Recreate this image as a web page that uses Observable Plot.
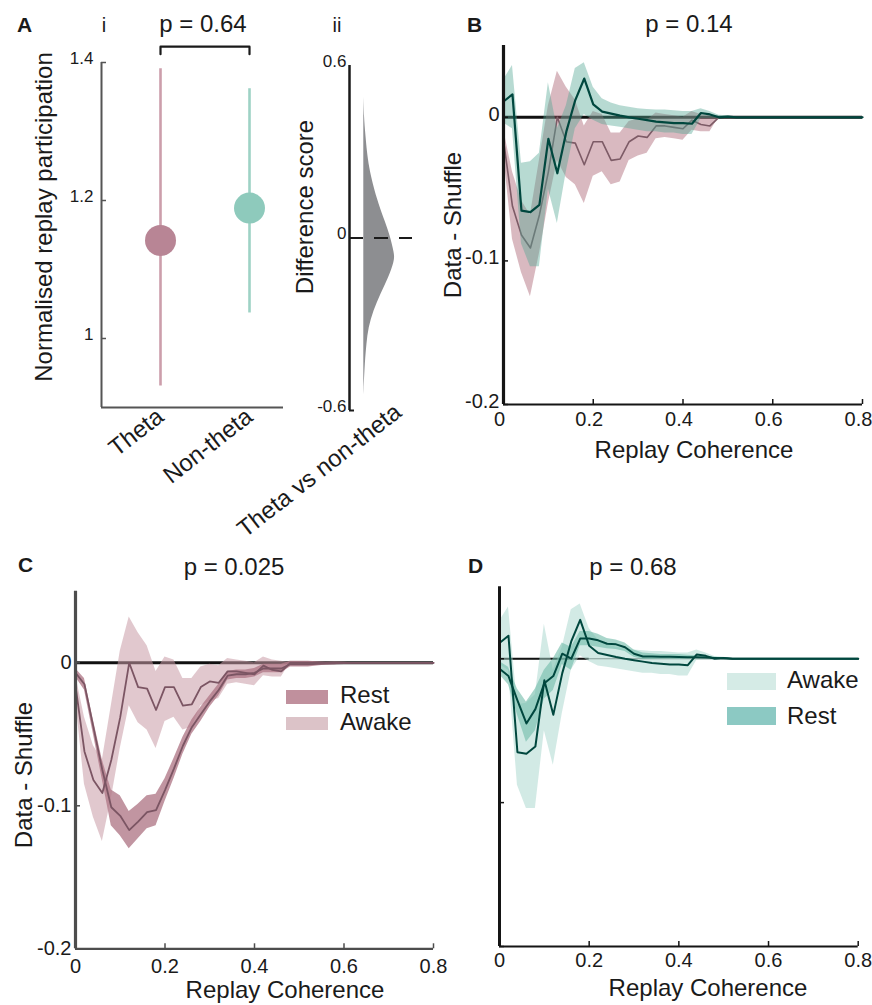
<!DOCTYPE html>
<html><head><meta charset="utf-8">
<script src="https://cdn.jsdelivr.net/npm/d3@7"></script>
<script src="https://cdn.jsdelivr.net/npm/@observablehq/plot@0.6"></script>
<style>
html,body{margin:0;padding:0;background:#fff;}
#fig{position:relative;width:872px;height:1005px;overflow:hidden;background:#fff;}
.panel{position:absolute;}
.panel svg{display:block;overflow:visible;}
#overlay{position:absolute;left:0;top:0;pointer-events:none;overflow:visible;}
</style></head><body><div id="fig"></div><script>
const FONT = '"Liberation Sans", Arial, Helvetica, sans-serif';

// ---------- Panel A data ----------
const groups = ["Theta", "Non-theta"];
const groupMean = [1.142, 1.189];
const groupLow = [0.931, 1.037];
const groupHigh = [1.391, 1.362];
const groupDot = ["#b88595", "#8ecabc"];
const groupLine = ["#cc9eab", "#9ed2c5"];
const aTicks = [1, 1.2, 1.4];

const diffValues = [0.49, 0.42, 0.36, 0.244, 0.129, 0.07, 0.014, -0.056, -0.08, -0.138, -0.195, -0.254, -0.312, -0.37, -0.43, -0.546];
const diffDensity = [0, 0.02, 0.065, 0.16, 0.45, 0.645, 0.84, 1.0, 1.0, 0.81, 0.55, 0.32, 0.16, 0.1, 0.05, 0];
const diffTicks = [-0.6, 0, 0.6];

// ---------- Panels B-D data (Data - Shuffle vs replay coherence) ----------
const coherence = [0,0.02,0.04,0.06,0.08,0.1,0.12,0.14,0.16,0.18,0.2,0.22,0.24,0.26,0.28,0.3,0.32,0.34,0.36,0.38,0.4,0.42,0.44,0.46,0.48,0.5,0.52,0.54,0.56,0.58,0.6,0.62,0.64,0.66,0.68,0.7,0.72,0.74,0.76,0.78,0.8];

// theta (B) / awake (C)
const thetaMean = [-0.016,-0.062,-0.082,-0.091,-0.068,-0.038,0.000,-0.017,-0.018,-0.033,-0.017,-0.017,-0.030,-0.029,-0.017,-0.013,-0.014,-0.006,-0.006,-0.007,-0.008,-0.002,-0.005,-0.006,0,0,0,0,0,0,0,0,0,0,0,0,0,0,0,0,0];
const thetaHigh = [-0.008,-0.038,-0.058,-0.068,-0.030,0.008,0.032,0.021,0.012,-0.006,0.004,0.002,-0.011,-0.011,-0.003,-0.001,-0.002,0.003,0.002,0.001,0.000,0.004,0.002,0.001,0,0,0,0,0,0,0,0,0,0,0,0,0,0,0,0,0];
const thetaLow = [-0.025,-0.085,-0.108,-0.125,-0.095,-0.060,-0.030,-0.042,-0.047,-0.060,-0.041,-0.038,-0.047,-0.045,-0.030,-0.027,-0.025,-0.015,-0.014,-0.015,-0.016,-0.009,-0.010,-0.010,0,0,0,0,0,0,0,0,0,0,0,0,0,0,0,0,0];

// non-theta (B) / awake (D)
const nonThetaMean = [0.011,0.016,-0.065,-0.066,-0.061,-0.015,-0.039,-0.010,0.012,0.027,0.009,0.004,0.0026,0.0012,0.000,-0.001,-0.002,-0.003,-0.0035,-0.004,-0.004,-0.0045,0.003,0.002,0.000,0.0005,0,0,0,0,0,0,0,0,0,0,0,0,0,0,0];
const nonThetaHigh = [0.026,0.036,-0.032,-0.031,-0.025,0.024,-0.008,0.008,0.034,0.038,0.021,0.013,0.010,0.008,0.007,0.006,0.0055,0.005,0.005,0.0045,0.004,0.004,0.006,0.004,0.0015,0.001,0,0,0,0,0,0,0,0,0,0,0,0,0,0,0];
const nonThetaLow = [-0.004,-0.008,-0.088,-0.104,-0.104,-0.050,-0.074,-0.038,-0.008,0.002,-0.002,-0.005,-0.006,-0.007,-0.008,-0.009,-0.010,-0.010,-0.011,-0.011,-0.012,-0.012,-0.001,-0.001,-0.001,-0.0005,0,0,0,0,0,0,0,0,0,0,0,0,0,0,0];

// rest (C)
const restMeanC = [-0.007,-0.015,-0.045,-0.075,-0.101,-0.107,-0.117,-0.111,-0.1045,-0.103,-0.089,-0.074,-0.058,-0.045,-0.036,-0.027,-0.019,-0.009,-0.008,-0.008,-0.007,-0.004,-0.004,-0.004,-0.001,-0.001,-0.001,-0.0008,-0.0006,-0.0004,-0.0002,0,0,0,0,0,0,0,0,0,0];
const restHighC = [-0.004,-0.011,-0.040,-0.068,-0.089,-0.093,-0.104,-0.099,-0.093,-0.092,-0.081,-0.067,-0.052,-0.040,-0.031,-0.023,-0.015,-0.006,-0.005,-0.005,-0.004,-0.001,-0.001,-0.001,0.001,0.001,0.001,0.0007,0.0004,0.0006,0.0003,0,0,0,0,0,0,0,0,0,0];
const restLowC = [-0.010,-0.019,-0.050,-0.082,-0.114,-0.121,-0.130,-0.123,-0.116,-0.114,-0.097,-0.081,-0.064,-0.050,-0.041,-0.031,-0.023,-0.012,-0.011,-0.011,-0.010,-0.007,-0.007,-0.007,-0.003,-0.003,-0.003,-0.0023,-0.0016,-0.0014,-0.0007,0,0,0,0,0,0,0,0,0,0];

// rest (D)
const restMeanD = [-0.007,-0.012,-0.029,-0.045,-0.035,-0.017,-0.012,0.0035,0.000,0.014,0.014,0.0128,0.0104,0.010,0.008,0.0035,0.0016,0.0015,0.0014,0.0013,0.0012,0.0011,0.001,0.0008,0.0005,0.0003,0,0,0,0,0,0,0,0,0,0,0,0,0,0,0];
const restHighD = [-0.002,-0.006,-0.021,-0.030,-0.021,-0.008,0.000,0.011,0.008,0.019,0.019,0.017,0.014,0.013,0.011,0.006,0.004,0.0035,0.003,0.003,0.003,0.0025,0.002,0.0015,0.001,0.0006,0,0,0,0,0,0,0,0,0,0,0,0,0,0,0];
const restLowD = [-0.011,-0.018,-0.039,-0.058,-0.050,-0.028,-0.022,-0.004,-0.008,0.009,0.009,0.008,0.007,0.0065,0.005,0.001,-0.0005,-0.0005,-0.0003,-0.0003,-0.0005,-0.0003,0,0.0001,0,0,0,0,0,0,0,0,0,0,0,0,0,0,0,0,0];

const xTicks = [0, 0.2, 0.4, 0.6, 0.8];
const yTicks = [-0.2, -0.1, 0];
const xDomain = [0, 0.8];
const yDomain = [-0.2, 0.05];

function rows(mean, lo, hi) {
  return coherence.map((c, i) => ({c, mean: mean[i], lo: lo[i], hi: hi[i]}));
}
const bTheta = rows(thetaMean, thetaLow, thetaHigh);
const bNon = rows(nonThetaMean, nonThetaLow, nonThetaHigh);
const cAwake = rows(thetaMean, thetaLow, thetaHigh);
const cRest = rows(restMeanC, restLowC, restHighC);
const dAwake = rows(nonThetaMean, nonThetaLow, nonThetaHigh);
const dRest = rows(restMeanD, restLowD, restHighD);

const fig = document.getElementById("fig");
function place(node, left, top) {
  const d = document.createElement("div");
  d.className = "panel";
  d.style.left = left + "px";
  d.style.top = top + "px";
  d.appendChild(node);
  fig.appendChild(d);
}
const fmt = d => String(d);
const baseStyle = {fontFamily: FONT, background: "transparent", overflow: "visible", color: "#1a1a1a"};

// ---------- Panel A i ----------
{
  const W = 300, H = 430, mL = 101, mR = 17, mT = 62, mB = 23;
  const innerW = W - mL - mR;
  const gRows = groups.map((g, i) => ({pos: i + 1, g, mean: groupMean[i], lo: groupLow[i], hi: groupHigh[i], dot: groupDot[i], line: groupLine[i]}));
  const bracketY = 1.423, bracketDrop = 0.011;
  const bracket = [
    {x: 1, y: bracketY - bracketDrop}, {x: 1, y: bracketY},
    {x: 2, y: bracketY}, {x: 2, y: bracketY - bracketDrop}
  ];
  const xd = [0.337, 2.382];
  place(Plot.plot({
    width: W, height: H, marginLeft: mL, marginRight: mR, marginTop: mT, marginBottom: mB,
    style: baseStyle,
    x: {domain: xd}, y: {domain: [0.9, 1.4]},
    marks: [
      Plot.ruleX(gRows, {x: "pos", y1: "lo", y2: "hi", stroke: "line", strokeWidth: 2.6}),
      Plot.dot(gRows, {x: "pos", y: "mean", r: 15.5, fill: "dot"}),
      Plot.line(bracket, {x: "x", y: "y", stroke: "#1a1a1a", strokeWidth: 2.2}),
      Plot.ruleX([xd[0]], {stroke: "#555", strokeWidth: 2}),
      Plot.ruleY([0.9], {stroke: "#555", strokeWidth: 2}),
      Plot.ruleY(aTicks, {stroke: "#555", strokeWidth: 1.5, insetRight: innerW - 5}),
      Plot.axisY({ticks: aTicks, tickSize: 0, tickPadding: 8, fontSize: 17, dy: -4, tickFormat: fmt, label: null}),
      Plot.axisX({ticks: [1, 2], tickSize: 0, tickPadding: 6, fontSize: 24, tickRotate: -38, tickFormat: i => groups[i - 1], label: null})
    ]
  }), 0, 0);
}

// ---------- Panel A ii ----------
{
  const W = 130, H = 430, mL = 49, mR = 18, mT = 65, mB = 20;
  const innerW = W - mL - mR;
  const xd = [-0.461, 1.571];
  const dRows = diffValues.map((v, i) => ({v, d: diffDensity[i]}));
  place(Plot.plot({
    width: W, height: H, marginLeft: mL, marginRight: mR, marginTop: mT, marginBottom: mB,
    style: baseStyle,
    x: {domain: xd, axis: null}, y: {domain: [-0.6, 0.6]},
    marks: [
      Plot.areaX(dRows, {y: "v", x1: 0, x2: "d", fill: "#8d8e91", curve: "basis"}),
      Plot.ruleY([0], {stroke: "#1a1a1a", strokeWidth: 2, strokeDasharray: "14,11"}),
      Plot.ruleX([xd[0]], {stroke: "#1a1a1a", strokeWidth: 2.5}),
      Plot.ruleY([-0.6], {stroke: "#1a1a1a", strokeWidth: 2, insetRight: innerW - 5}),
      Plot.axisY({ticks: diffTicks, tickSize: 0, tickPadding: 3, fontSize: 17, dy: -4, tickFormat: fmt, label: null})
    ]
  }), 300, 0);
}

// ---------- generic curve panel ----------
function curvePanel({W, H, mL, mR, mT, mB, layers, axisColor, yAxisWidth, xAxisWidth, zeroMarks, yLabels, yDy, xPad, xDx = 0}) {
  const innerW = W - mL - mR, innerH = H - mT - mB;
  const marks = [...zeroMarks];
  for (const L of layers) {
    if (L.type === "band") marks.push(Plot.areaY(L.data, {x: "c", y1: "lo", y2: "hi", fill: L.fill, fillOpacity: L.opacity}));
    else marks.push(Plot.lineY(L.data, {x: "c", y: "mean", stroke: L.stroke, strokeWidth: L.width}));
  }
  marks.push(
    Plot.ruleX([xDomain[0]], {stroke: axisColor, strokeWidth: yAxisWidth}),
    Plot.ruleY([yDomain[0]], {stroke: axisColor, strokeWidth: xAxisWidth}),
    Plot.ruleX(xTicks, {stroke: axisColor, strokeWidth: 1.5, insetTop: innerH - 5}),
    Plot.ruleY(yTicks, {stroke: axisColor, strokeWidth: 1.5, insetRight: innerW - 5}),
    Plot.axisX({ticks: xTicks, tickSize: 0, tickPadding: xPad, fontSize: 20, dx: xDx, tickFormat: fmt, label: null})
  );
  if (yLabels) marks.push(Plot.axisY({ticks: yTicks, tickSize: 0, tickPadding: 4, fontSize: 20, dy: yDy, tickFormat: fmt, label: null}));
  return Plot.plot({
    width: W, height: H, marginLeft: mL, marginRight: mR, marginTop: mT, marginBottom: mB,
    style: baseStyle,
    x: {domain: xDomain, axis: null}, y: {domain: yDomain, axis: null},
    marks
  });
}

// ---------- Panel B ----------
place(curvePanel({
  W: 442, H: 470, mL: 73, mR: 10, mT: 45, mB: 66,
  axisColor: "#151515", yAxisWidth: 3.2, xAxisWidth: 2, yLabels: true, yDy: -3, xPad: 7, xDx: -4,
  zeroMarks: [Plot.ruleY([0], {stroke: "#111", strokeWidth: 3})],
  layers: [
    {type: "band", data: bTheta, fill: "#a45868", opacity: 0.42},
    {type: "line", data: bTheta, stroke: "#7d5b66", width: 1.6},
    {type: "band", data: bNon, fill: "#54a894", opacity: 0.42},
    {type: "line", data: bNon, stroke: "#00473e", width: 2.2}
  ]
}), 430, 0);

// ---------- Panel C ----------
place(curvePanel({
  W: 440, H: 455, mL: 75, mR: 7, mT: 40.8, mB: 56.7,
  axisColor: "#4d4d4d", yAxisWidth: 3.2, xAxisWidth: 2.2, yLabels: true, yDy: 0, xPad: 10,
  zeroMarks: [Plot.ruleY([0], {stroke: "#111", strokeWidth: 3})],
  layers: [
    {type: "band", data: cAwake, fill: "#c99aa5", opacity: 0.55},
    {type: "band", data: cRest, fill: "#b27a89", opacity: 0.8},
    {type: "line", data: cAwake, stroke: "#7b5563", width: 1.8},
    {type: "line", data: cRest, stroke: "#7b5563", width: 1.8}
  ]
}), 0, 550);

// ---------- Panel D ----------
place(curvePanel({
  W: 432, H: 455, mL: 59, mR: 14.3, mT: 36.3, mB: 59,
  axisColor: "#151515", yAxisWidth: 3, xAxisWidth: 2, yLabels: false, yDy: 0, xPad: 6,
  zeroMarks: [
    Plot.ruleY([0], {stroke: "#666", strokeWidth: 1.2}),
    Plot.ruleY([0], {x1: 0, x2: 0.2, stroke: "#111", strokeWidth: 2})
  ],
  layers: [
    {type: "band", data: dAwake, fill: "#a6d6cb", opacity: 0.5},
    {type: "band", data: dRest, fill: "#6fbaa9", opacity: 0.6},
    {type: "line", data: dAwake, stroke: "#00473e", width: 2},
    {type: "line", data: dRest, stroke: "#00473e", width: 2}
  ]
}), 440, 550);

// ---------- overlay text & legends ----------
const svg = d3.select("#fig").append("svg").attr("id", "overlay")
  .attr("width", 872).attr("height", 1005)
  .attr("font-family", FONT).attr("fill", "#1a1a1a");
const texts = [
  {t: "A", x: 17, y: 32, size: 21, weight: "bold", anchor: "start"},
  {t: "i", x: 104, y: 32, size: 20},
  {t: "p = 0.64", x: 203, y: 32, size: 24},
  {t: "ii", x: 337, y: 32, size: 20},
  {t: "B", x: 467, y: 32, size: 21, weight: "bold", anchor: "start"},
  {t: "p = 0.14", x: 689, y: 32, size: 24},
  {t: "Normalised replay participation", x: 52, y: 217, size: 24, rotate: -90},
  {t: "Difference score", x: 313, y: 207, size: 24, rotate: -90},
  {t: "Theta vs non-theta", x: 403, y: 415, size: 24, rotate: -38, anchor: "end"},
  {t: "Data - Shuffle", x: 461, y: 225, size: 24, rotate: -90},
  {t: "Replay Coherence", x: 694, y: 458, size: 24},
  {t: "C", x: 18, y: 572, size: 21, weight: "bold", anchor: "start"},
  {t: "p = 0.025", x: 234, y: 575, size: 24},
  {t: "Data - Shuffle", x: 32, y: 775, size: 24, rotate: -90},
  {t: "Replay Coherence", x: 285, y: 998, size: 24},
  {t: "D", x: 468, y: 573, size: 21, weight: "bold", anchor: "start"},
  {t: "p = 0.68", x: 633, y: 575, size: 24},
  {t: "Replay Coherence", x: 708, y: 996, size: 24},
  {t: "Rest", x: 340, y: 703, size: 24, anchor: "start"},
  {t: "Awake", x: 340, y: 730, size: 24, anchor: "start"},
  {t: "Awake", x: 787, y: 688, size: 24, anchor: "start"},
  {t: "Rest", x: 787, y: 724, size: 24, anchor: "start"}
];
const legendBoxes = [
  {x: 286, y: 690, w: 42, h: 14, fill: "#c0909d"},
  {x: 286, y: 717, w: 42, h: 13, fill: "#dcc3c8"},
  {x: 727, y: 673, w: 49, h: 17, fill: "#d5ebe6"},
  {x: 727, y: 707, w: 49, h: 18, fill: "#8cc9c3"}
];
svg.selectAll("rect").data(legendBoxes).join("rect")
  .attr("x", d => d.x).attr("y", d => d.y).attr("width", d => d.w).attr("height", d => d.h).attr("fill", d => d.fill);
svg.selectAll("text").data(texts).join("text")
  .attr("transform", d => `translate(${d.x},${d.y}) rotate(${d.rotate || 0})`)
  .attr("text-anchor", d => d.anchor || "middle")
  .attr("font-size", d => d.size)
  .attr("font-weight", d => d.weight || "normal")
  .text(d => d.t);
</script></body></html>
